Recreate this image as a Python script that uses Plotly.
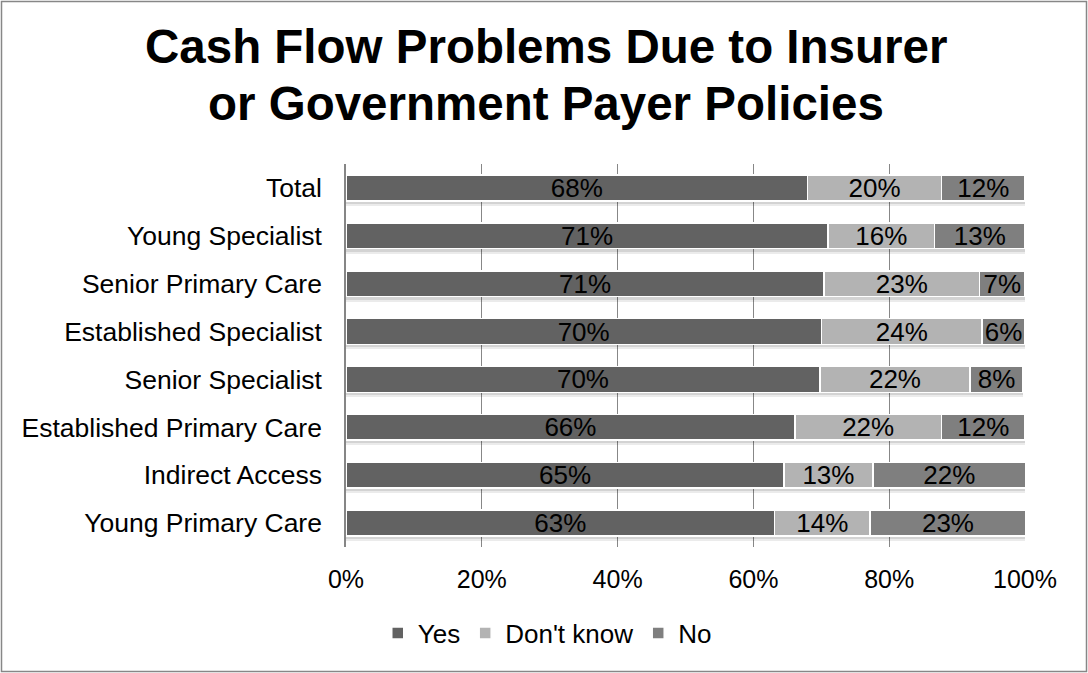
import plotly.graph_objects as go

categories = ["Total", "Young Specialist", "Senior Primary Care", "Established Specialist",
              "Senior Specialist", "Established Primary Care", "Indirect Access", "Young Primary Care"]

yes_vals = [68.0, 71.0, 70.4, 70.0, 69.8, 66.1, 64.5, 63.1]
dk_vals = [19.7, 15.7, 22.9, 23.7, 22.1, 21.6, 13.1, 14.1]
no_vals = [12.3, 13.3, 6.7, 6.3, 7.8, 12.3, 22.5, 22.9]

yes_lbl = ["68%", "71%", "71%", "70%", "70%", "66%", "65%", "63%"]
dk_lbl = ["20%", "16%", "23%", "24%", "22%", "22%", "13%", "14%"]
no_lbl = ["12%", "13%", "7%", "6%", "8%", "12%", "22%", "23%"]

tick_vals = [0, 20, 40, 60, 80, 100]
tick_text = ["0%", "20%", "40%", "60%", "80%", "100%"]

title_lines = ["Cash Flow Problems Due to Insurer", "or Government Payer Policies"]

series = [
    ("Yes", yes_vals, yes_lbl, "#626262"),
    ("Don't know", dk_vals, dk_lbl, "#b3b3b3"),
    ("No", no_vals, no_lbl, "#7f7f7f"),
]

FONT = "Liberation Sans, Arial, sans-serif"

W, H = 1088, 673
L, R, T, B = 346, 1025, 164, 547
n = len(categories)
cat_px = (B - T) / n

fig = go.Figure()

# soft drop shadow under each stacked bar: two faint layers on lower axes
totals = [a + b + c for a, b, c in zip(yes_vals, dk_vals, no_vals)]
fig.add_trace(go.Bar(
    y=categories, x=totals, orientation="h", yaxis="y",
    marker=dict(color="rgba(0,0,0,0.08)", line=dict(width=0)),
    showlegend=False, hoverinfo="skip",
))
fig.add_trace(go.Bar(
    y=categories, x=totals, orientation="h", yaxis="y2",
    marker=dict(color="rgba(0,0,0,0.10)", line=dict(width=0)),
    showlegend=False, hoverinfo="skip",
))

for name, vals, lbl, col in series:
    fig.add_trace(go.Bar(
        y=categories, x=vals, name=name, orientation="h", yaxis="y3",
        marker=dict(color=col, line=dict(color="white", width=1.5)),
        text=lbl, textposition="inside", insidetextanchor="middle",
        constraintext="none",
        textfont=dict(family=FONT, size=26, color="black"),
        hoverinfo="skip",
    ))

def py(pix):
    return (B - pix) / (B - T)

def px(pix):
    return (pix - L) / (R - L)

annotations = [
    dict(text="<b>%s</b>" % title_lines[0], x=px(546), xref="paper", xanchor="center",
         y=py(47), yref="paper", yanchor="middle", showarrow=False,
         font=dict(family=FONT, size=47.5, color="black")),
    dict(text="<b>%s</b>" % title_lines[1], x=px(546), xref="paper", xanchor="center",
         y=py(103), yref="paper", yanchor="middle", showarrow=False,
         font=dict(family=FONT, size=47.5, color="black")),
]

hidden_cat_axis = dict(
    categoryorder="array", categoryarray=categories,
    showline=False, showgrid=False, showticklabels=False, ticks="",
    fixedrange=True,
)

fig.update_layout(
    width=W, height=H,
    barmode="stack", bargap=0.46,
    paper_bgcolor="white", plot_bgcolor="white",
    margin=dict(l=L, r=W - R, t=T, b=H - B, pad=0),
    font=dict(family=FONT, size=26, color="black"),
    annotations=annotations,
    legend=dict(
        orientation="h", x=0.503, xref="container", xanchor="center",
        y=1 - 633 / H, yref="container", yanchor="middle",
        font=dict(family=FONT, size=26, color="black"),
        itemwidth=30, traceorder="normal",
    ),
    xaxis=dict(
        range=[0, 100], tickvals=tick_vals, ticktext=tick_text,
        showgrid=True, gridcolor="#878787", gridwidth=1,
        zeroline=False, showline=False, ticks="",
        ticklabelstandoff=15,
        tickfont=dict(family=FONT, size=25, color="black"),
        fixedrange=True,
    ),
    yaxis=dict(hidden_cat_axis, range=[n - 0.5 - 5.0 / cat_px, -0.5 - 5.0 / cat_px]),
    yaxis2=dict(hidden_cat_axis, overlaying="y", range=[n - 0.5 - 3.0 / cat_px, -0.5 - 3.0 / cat_px]),
    yaxis3=dict(
        overlaying="y", side="left",
        categoryorder="array", categoryarray=categories,
        range=[n - 0.5, -0.5],
        showline=True, linecolor="#868686", linewidth=1.5,
        showgrid=False, ticks="", ticklabelstandoff=17,
        tickfont=dict(family=FONT, size=26.5, color="black"),
        fixedrange=True,
    ),
    shapes=[dict(
        type="rect", xref="paper", yref="paper",
        x0=px(1.5), x1=px(W - 1.5),
        y0=py(H - 1.5), y1=py(1.5),
        line=dict(color="#878787", width=1.5), fillcolor="rgba(0,0,0,0)",
        layer="below",
    )],
)

fig.write_html(
    "out.html",
    config={"displayModeBar": False},
    post_script="document.body.style.margin='0';document.body.style.overflow='hidden';",
)
